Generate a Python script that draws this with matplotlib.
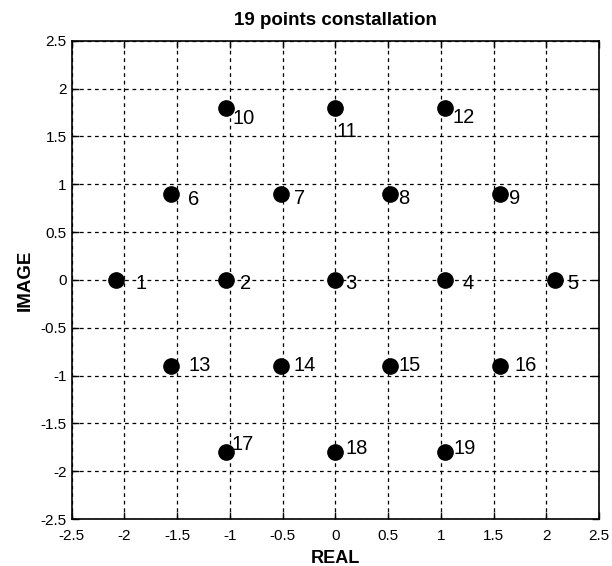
import matplotlib
matplotlib.use('Agg')
import matplotlib.pyplot as plt

# constellation points
real = [-2.08, -1.04, 0.0, 1.04, 2.08,
        -1.56, -0.52, 0.52, 1.56,
        -1.04, 0.0, 1.04,
        -1.56, -0.52, 0.52, 1.56,
        -1.04, 0.0, 1.04]
imag = [0.0, 0.0, 0.0, 0.0, 0.0,
        0.9, 0.9, 0.9, 0.9,
        1.8, 1.8, 1.8,
        -0.9, -0.9, -0.9, -0.9,
        -1.8, -1.8, -1.8]
labels = [str(i) for i in range(1, 20)]
ticks = [-2.5, -2, -1.5, -1, -0.5, 0, 0.5, 1, 1.5, 2, 2.5]
tick_labels = ['-2.5', '-2', '-1.5', '-1', '-0.5', '0', '0.5', '1', '1.5', '2', '2.5']

# label offsets in pixels (right, down)
label_offsets = [(20, 4), (14, 4), (10, 4), (17, 4), (12, 4),
                 (17, 6), (13, 5), (8, 5), (9, 5),
                 (7, 11), (1, 24), (7, 10),
                 (18, 0), (13, 0), (8, 0), (15, 0),
                 (6, -8), (10, -4), (8, -4)]

plain = ['Liberation Sans', 'DejaVu Sans']

fig = plt.figure(figsize=(6.12, 5.66), dpi=100)
ax = fig.add_axes([0.117, 0.083, 0.862, 0.845])

ax.plot(real, imag, 'o', color='black', markersize=11, zorder=3)
for x, y, lab, (dx, dy) in zip(real, imag, labels, label_offsets):
    ax.annotate(lab, (x, y), xytext=(dx * 0.72, -dy * 0.72), textcoords='offset points',
                ha='left', va='center', fontsize=14.5, family=plain, color='black')

ax.set_xlim(-2.5, 2.5)
ax.set_ylim(-2.5, 2.5)
ax.set_xticks(ticks)
ax.set_yticks(ticks)
ax.set_xticklabels(tick_labels, family=plain, fontsize=11)
ax.set_yticklabels(tick_labels, family=plain, fontsize=11)
ax.tick_params(direction='in', top=True, right=True, length=5, width=1)
ax.tick_params(axis='x', pad=7.5)
ax.tick_params(axis='y', pad=3.5)
ax.grid(True, color='black', linestyle=(0, (3, 3)), linewidth=0.9)
for s in ax.spines.values():
    s.set_linewidth(1.2)

ax.set_title('19 points constallation', family=plain, fontsize=13.5, fontweight='bold', pad=11)
ax.set_xlabel('REAL', family=plain, fontsize=13, fontweight='bold', labelpad=5)
ax.set_ylabel('IMAGE', family=plain, fontsize=13.5, fontweight='bold', labelpad=5)

fig.savefig('out.png', dpi=100)
